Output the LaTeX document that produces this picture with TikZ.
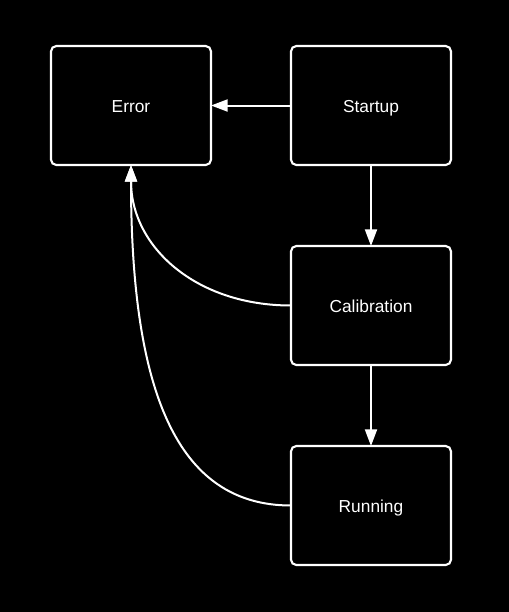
\documentclass[tikz,border=0pt]{standalone}
\usepackage{fontspec}
\setmainfont{Liberation Sans}
\usetikzlibrary{arrows.meta}
\begin{document}
\begin{tikzpicture}[x=0.75pt,y=-0.75pt,
  statebox/.style={draw=white,line width=1.6pt,rounded corners=4pt,minimum width=120pt,minimum height=89.25pt,outer sep=0pt,inner sep=0pt,text height=11.1pt,text depth=0pt,text=white,font=\fontsize{13}{15}\selectfont},
  arr/.style={draw=white,line width=1.5pt,-{Triangle[length=12.5pt,width=9pt]}}]
\fill[black] (0,0) rectangle (509,612);
\useasboundingbox (0,0) rectangle (509,612);
\node[statebox] (error) at (131,105.5) {Error};
\node[statebox] (startup) at (371,105.5) {Startup};
\node[statebox] (calib) at (371,305.5) {Calibration};
\node[statebox] (running) at (371,505.5) {Running};
\draw[arr] (startup.west) -- (error.east);
\draw[arr] (startup.south) -- (calib.north);
\draw[arr] (calib.south) -- (running.north);
\draw[arr] (calib.west) .. controls +(-95,0) and +(0,82) .. (error.south);
\draw[arr] (running.west) .. controls +(-115,0) and +(0,225) .. (error.south);
\end{tikzpicture}
\end{document}
